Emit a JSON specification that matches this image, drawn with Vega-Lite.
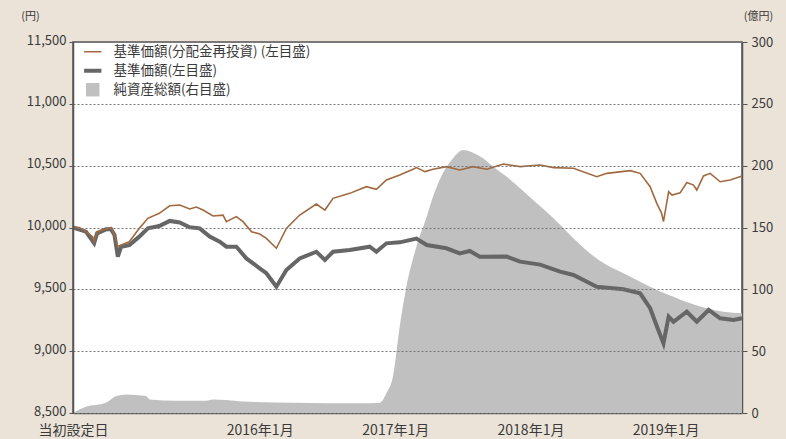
{
  "$schema": "https://vega.github.io/schema/vega-lite/v6.json",
  "width": 669,
  "height": 371,
  "autosize": {"type": "none"},
  "padding": {"left": 73, "top": 42, "right": 44, "bottom": 26},
  "background": "#ebe3d8",
  "config": {
    "font": "Noto Sans CJK JP",
    "view": {"fill": "#ffffff", "stroke": "#555555", "strokeWidth": 1.5},
    "axis": {"labelColor": "#3a3a3a", "titleColor": "#3a3a3a", "labelFontSize": 13, "domainColor": "#555555", "tickColor": "#555555", "domainWidth": 1.5}
  },
  "datasets": {
    "reinvest": [
      {"d": "2014-08-15", "v": 10002}, {"d": "2014-09-01", "v": 10000}, {"d": "2014-09-19", "v": 9966},
      {"d": "2014-10-07", "v": 9926}, {"d": "2014-10-11", "v": 9885}, {"d": "2014-10-19", "v": 9966},
      {"d": "2014-11-12", "v": 9985}, {"d": "2014-11-26", "v": 10000}, {"d": "2014-12-05", "v": 9940},
      {"d": "2014-12-14", "v": 9845}, {"d": "2014-12-23", "v": 9858}, {"d": "2015-01-14", "v": 9885},
      {"d": "2015-02-10", "v": 9993}, {"d": "2015-03-05", "v": 10074}, {"d": "2015-04-05", "v": 10115},
      {"d": "2015-05-03", "v": 10176}, {"d": "2015-05-30", "v": 10182}, {"d": "2015-06-26", "v": 10150},
      {"d": "2015-07-14", "v": 10165}, {"d": "2015-08-01", "v": 10141}, {"d": "2015-08-28", "v": 10093},
      {"d": "2015-09-24", "v": 10100}, {"d": "2015-10-03", "v": 10047}, {"d": "2015-10-30", "v": 10088},
      {"d": "2015-11-17", "v": 10047}, {"d": "2015-12-10", "v": 9966}, {"d": "2016-01-01", "v": 9947},
      {"d": "2016-01-19", "v": 9912}, {"d": "2016-02-15", "v": 9832}, {"d": "2016-03-13", "v": 9993},
      {"d": "2016-04-18", "v": 10101}, {"d": "2016-06-02", "v": 10190}, {"d": "2016-06-25", "v": 10141},
      {"d": "2016-07-17", "v": 10236}, {"d": "2016-08-31", "v": 10276}, {"d": "2016-10-15", "v": 10330},
      {"d": "2016-11-11", "v": 10309}, {"d": "2016-12-08", "v": 10384}, {"d": "2017-01-13", "v": 10425},
      {"d": "2017-02-18", "v": 10471}, {"d": "2017-02-27", "v": 10484}, {"d": "2017-03-22", "v": 10452},
      {"d": "2017-04-13", "v": 10471}, {"d": "2017-05-19", "v": 10492}, {"d": "2017-06-24", "v": 10465},
      {"d": "2017-07-30", "v": 10492}, {"d": "2017-09-05", "v": 10471}, {"d": "2017-10-20", "v": 10513},
      {"d": "2017-12-04", "v": 10492}, {"d": "2018-01-27", "v": 10505}, {"d": "2018-03-04", "v": 10484},
      {"d": "2018-04-27", "v": 10479}, {"d": "2018-06-29", "v": 10411}, {"d": "2018-07-26", "v": 10438},
      {"d": "2018-09-27", "v": 10460}, {"d": "2018-10-24", "v": 10438}, {"d": "2018-11-20", "v": 10330},
      {"d": "2018-12-08", "v": 10195}, {"d": "2018-12-21", "v": 10115}, {"d": "2018-12-26", "v": 10047},
      {"d": "2019-01-09", "v": 10290}, {"d": "2019-01-18", "v": 10262}, {"d": "2019-02-09", "v": 10280},
      {"d": "2019-02-27", "v": 10364}, {"d": "2019-03-17", "v": 10343}, {"d": "2019-03-26", "v": 10303},
      {"d": "2019-04-13", "v": 10417}, {"d": "2019-05-01", "v": 10438}, {"d": "2019-05-28", "v": 10370},
      {"d": "2019-06-24", "v": 10384}, {"d": "2019-07-26", "v": 10417}
    ],
    "nav": [
      {"d": "2014-08-15", "v": 10000}, {"d": "2014-09-19", "v": 9966}, {"d": "2014-10-11", "v": 9872},
      {"d": "2014-10-19", "v": 9953}, {"d": "2014-11-12", "v": 9985}, {"d": "2014-11-26", "v": 9985},
      {"d": "2014-12-05", "v": 9940}, {"d": "2014-12-14", "v": 9764}, {"d": "2014-12-23", "v": 9845},
      {"d": "2015-01-14", "v": 9858}, {"d": "2015-02-10", "v": 9926}, {"d": "2015-03-05", "v": 9993},
      {"d": "2015-04-05", "v": 10012}, {"d": "2015-05-03", "v": 10053}, {"d": "2015-05-30", "v": 10040},
      {"d": "2015-06-26", "v": 10002}, {"d": "2015-07-23", "v": 9993}, {"d": "2015-08-19", "v": 9926},
      {"d": "2015-09-15", "v": 9885}, {"d": "2015-10-03", "v": 9845}, {"d": "2015-10-30", "v": 9845},
      {"d": "2015-11-26", "v": 9750}, {"d": "2016-01-01", "v": 9670}, {"d": "2016-01-19", "v": 9630},
      {"d": "2016-02-15", "v": 9521}, {"d": "2016-03-13", "v": 9656}, {"d": "2016-04-18", "v": 9750},
      {"d": "2016-06-02", "v": 9804}, {"d": "2016-06-25", "v": 9737}, {"d": "2016-07-17", "v": 9804},
      {"d": "2016-08-31", "v": 9818}, {"d": "2016-10-24", "v": 9845}, {"d": "2016-11-11", "v": 9804},
      {"d": "2016-12-08", "v": 9872}, {"d": "2017-01-13", "v": 9880}, {"d": "2017-02-27", "v": 9910},
      {"d": "2017-03-27", "v": 9858}, {"d": "2017-05-19", "v": 9832}, {"d": "2017-06-24", "v": 9791},
      {"d": "2017-07-21", "v": 9810}, {"d": "2017-08-17", "v": 9764}, {"d": "2017-10-29", "v": 9765},
      {"d": "2017-12-04", "v": 9724}, {"d": "2018-01-27", "v": 9700}, {"d": "2018-03-22", "v": 9643},
      {"d": "2018-04-27", "v": 9616}, {"d": "2018-06-29", "v": 9521}, {"d": "2018-09-09", "v": 9500},
      {"d": "2018-10-24", "v": 9468}, {"d": "2018-11-20", "v": 9347}, {"d": "2018-12-12", "v": 9171},
      {"d": "2018-12-26", "v": 9064}, {"d": "2019-01-09", "v": 9279}, {"d": "2019-01-22", "v": 9238},
      {"d": "2019-02-27", "v": 9319}, {"d": "2019-03-26", "v": 9238}, {"d": "2019-04-27", "v": 9333},
      {"d": "2019-05-28", "v": 9266}, {"d": "2019-07-03", "v": 9252}, {"d": "2019-07-26", "v": 9266}
    ],
    "aum": [
      {"d": "2014-08-15", "v": 0}, {"d": "2014-09-19", "v": 5}, {"d": "2014-11-12", "v": 8.3},
      {"d": "2014-12-10", "v": 13.7}, {"d": "2015-01-06", "v": 15}, {"d": "2015-02-28", "v": 13.7},
      {"d": "2015-03-10", "v": 11}, {"d": "2015-05-21", "v": 10}, {"d": "2015-08-10", "v": 10},
      {"d": "2015-08-28", "v": 11}, {"d": "2015-10-03", "v": 10.5}, {"d": "2015-11-17", "v": 9.2},
      {"d": "2016-03-31", "v": 8.3}, {"d": "2016-09-27", "v": 7.8}, {"d": "2016-11-20", "v": 8.3},
      {"d": "2016-12-08", "v": 16}, {"d": "2016-12-26", "v": 30}, {"d": "2017-01-13", "v": 70},
      {"d": "2017-01-31", "v": 102}, {"d": "2017-02-27", "v": 134.5}, {"d": "2017-03-27", "v": 158.8},
      {"d": "2017-04-13", "v": 175}, {"d": "2017-05-10", "v": 194}, {"d": "2017-06-06", "v": 206},
      {"d": "2017-07-03", "v": 212.7}, {"d": "2017-07-30", "v": 210.5}, {"d": "2017-08-26", "v": 206},
      {"d": "2017-09-22", "v": 199.2}, {"d": "2017-10-29", "v": 191.1}, {"d": "2017-12-04", "v": 181.7},
      {"d": "2018-01-18", "v": 169.6}, {"d": "2018-03-04", "v": 157.5}, {"d": "2018-04-18", "v": 144},
      {"d": "2018-05-15", "v": 136}, {"d": "2018-06-11", "v": 129}, {"d": "2018-07-26", "v": 119.7},
      {"d": "2018-09-09", "v": 113}, {"d": "2018-10-24", "v": 106.2}, {"d": "2018-12-08", "v": 99.5},
      {"d": "2019-01-22", "v": 94}, {"d": "2019-03-08", "v": 88.7}, {"d": "2019-04-22", "v": 84.7},
      {"d": "2019-06-06", "v": 81.9}, {"d": "2019-07-26", "v": 80.6}
    ]
  },
  "encoding": {
    "x": {
      "field": "d", "type": "temporal",
      "scale": {"type": "utc", "domain": ["2014-08-15", "2019-07-26"]},
      "axis": {
        "title": null,
        "values": [
          {"year": 2014, "month": 8, "date": 15, "utc": true},
          {"year": 2016, "month": 1, "date": 1, "utc": true},
          {"year": 2017, "month": 1, "date": 1, "utc": true},
          {"year": 2018, "month": 1, "date": 1, "utc": true},
          {"year": 2019, "month": 1, "date": 1, "utc": true}
        ],
        "labelExpr": "utcFormat(datum.value, '%Y') == '2014' ? '当初設定日' : utcFormat(datum.value, '%Y年%-m月')",
        "tickSize": -5, "labelPadding": 15, "labelFontSize": 14, "grid": false, "labelFlush": false, "labelOverlap": false
      }
    }
  },
  "layer": [
    {
      "data": {"name": "aum"},
      "mark": {"type": "area", "interpolate": "monotone"},
      "encoding": {
        "y": {
          "field": "v", "type": "quantitative",
          "scale": {"domain": [0, 300], "nice": false},
          "axis": {
            "orient": "right", "values": [0, 50, 100, 150, 200, 250, 300], "grid": false,
            "tickSize": 5, "labelPadding": 4,
            "title": "(億円)", "titleAngle": 0, "titleX": 16, "titleY": -26, "titleAlign": "center",
            "titleBaseline": "middle", "titleFontSize": 11, "titleFontWeight": "normal"
          }
        },
        "color": {
          "datum": "純資産総額(右目盛)",
          "scale": {
            "domain": ["基準価額(分配金再投資) (左目盛)", "基準価額(左目盛)", "純資産総額(右目盛)"],
            "range": ["#a0693f", "#666666", "#c0c0c0"]
          },
          "legend": {
            "title": null, "orient": "none", "legendX": 13, "legendY": 3, "labelFontSize": 13.5, "labelColor": "#3a3a3a",
            "labelLimit": 0, "rowPadding": 3, "symbolSize": 260, "labelOffset": 14, "padding": 0,
            "encode": {
              "symbols": {
                "update": {
                  "shape": {"signal": "datum.value === '純資産総額(右目盛)' ? 'square' : 'stroke'"},
                  "size": {"signal": "datum.value === '純資産総額(右目盛)' ? 180 : 300"},
                  "strokeWidth": {"signal": "datum.value === '基準価額(左目盛)' ? 4 : datum.value === '純資産総額(右目盛)' ? 0 : 1.5"},
                  "fill": {"signal": "datum.value === '純資産総額(右目盛)' ? '#c0c0c0' : 'transparent'"},
                  "stroke": {"signal": "datum.value === '基準価額(左目盛)' ? '#666666' : datum.value === '純資産総額(右目盛)' ? '#c0c0c0' : '#a0693f'"},
                  "opacity": {"value": 1}
                }
              }
            }
          }
        }
      }
    },
    {
      "layer": [
        {
          "data": {"name": "nav"},
          "mark": {"type": "line", "strokeWidth": 4},
          "encoding": {
            "y": {
              "field": "v", "type": "quantitative",
              "scale": {"domain": [8500, 11500], "nice": false},
              "axis": {
                "orient": "left", "values": [8500, 9000, 9500, 10000, 10500, 11000, 11500], "format": ",d",
                "grid": true, "gridDash": [2, 2], "gridColor": "#777777", "gridWidth": 1, "zindex": 1,
                "tickSize": 4, "labelPadding": 3, "labelOffset": -2,
                "title": "(円)", "titleAngle": 0, "titleX": -43, "titleY": -26, "titleAlign": "center",
                "titleBaseline": "middle", "titleFontSize": 11, "titleFontWeight": "normal"
              }
            },
            "color": {"datum": "基準価額(左目盛)"}
          }
        },
        {
          "data": {"name": "reinvest"},
          "mark": {"type": "line", "strokeWidth": 1.6},
          "encoding": {
            "y": {"field": "v", "type": "quantitative"},
            "color": {"datum": "基準価額(分配金再投資) (左目盛)"}
          }
        }
      ]
    }
  ],
  "resolve": {"scale": {"y": "independent"}}
}
